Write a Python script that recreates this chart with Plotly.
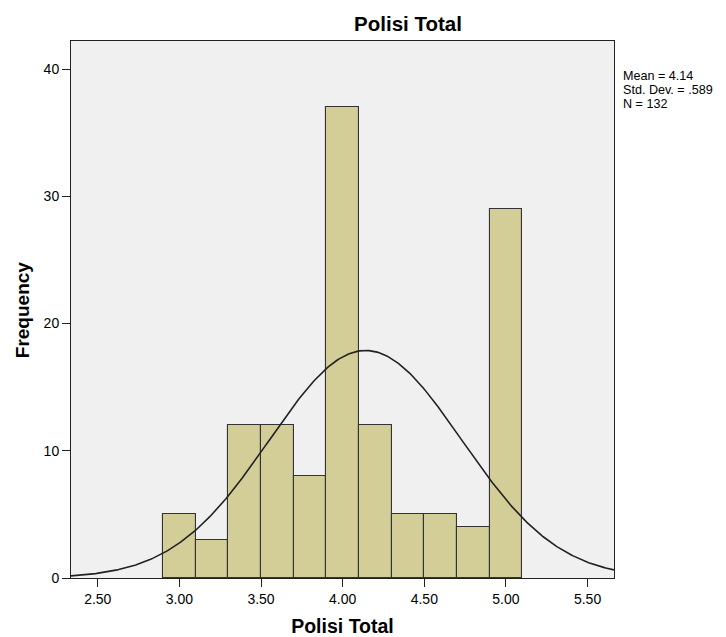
import numpy as np
import plotly.graph_objects as go

bin_lefts = [2.9, 3.1, 3.3, 3.5, 3.7, 3.9, 4.1, 4.3, 4.5, 4.7, 4.9]
frequencies = [5, 3, 12, 12, 8, 37, 12, 5, 5, 4, 29]
bin_width = 0.2
mean_val = 4.14
std_val = 0.589
n_val = 132
x_ticks = [2.5, 3.0, 3.5, 4.0, 4.5, 5.0, 5.5]
x_tick_labels = ["2.50", "3.00", "3.50", "4.00", "4.50", "5.00", "5.50"]
y_ticks = [0, 10, 20, 30, 40]
stats_lines = [f"Mean = {mean_val:.2f}", f"Std. Dev. = .{int(round(std_val * 1000))}", f"N = {n_val}"]

X_RANGE = [2.336, 5.662]
Y_RANGE = [0, 42.2]
# page has an 8px body margin; figure is sized to fit the window from that offset
W, H = 718, 629
L, R, T, B = 63, 112, 33, 59
plot_h = H - T - B
plot_w = W - L - R

centers = [b + bin_width / 2 for b in bin_lefts]
xs = np.linspace(X_RANGE[0], X_RANGE[1], 400)
ys = n_val * bin_width * np.exp(-0.5 * ((xs - mean_val) / std_val) ** 2) / (std_val * np.sqrt(2 * np.pi))

font = "Liberation Sans, Arial, sans-serif"
fig = go.Figure()
fig.add_trace(go.Bar(x=centers, y=frequencies, width=[bin_width] * len(centers),
                     marker=dict(color="#D3CE97", line=dict(color="#333333", width=1.1)),
                     showlegend=False, hoverinfo="x+y"))
fig.add_trace(go.Scatter(x=xs, y=ys, mode="lines", line=dict(color="#222222", width=1.6),
                         showlegend=False, hoverinfo="skip"))

annotations = []
for i, line in enumerate(stats_lines):
    annotations.append(dict(text=line, xref="paper", yref="paper",
                            x=1 + (612.5 - (W - R)) / plot_w, xanchor="left",
                            y=1 - (68 + 14 * i - T) / plot_h, yanchor="middle",
                            showarrow=False, align="left",
                            font=dict(size=12.6, family=font, color="black")))
# y-axis title placed precisely
annotations.append(dict(text="<b>Frequency</b>", xref="paper", yref="paper",
                        x=(14.7 - L) / plot_w, xanchor="center", y=0.5, yanchor="middle",
                        textangle=-90, showarrow=False,
                        font=dict(size=19, family=font, color="black")))

fig.update_layout(
    width=W, height=H,
    margin=dict(l=L, r=R, t=T, b=B),
    paper_bgcolor="white", plot_bgcolor="#F0F0F0",
    bargap=0,
    font=dict(family=font, color="black", size=14),
    title=dict(text="<b>Polisi Total</b>", x=400 / W, xanchor="center",
               y=1 - 16 / H, yanchor="middle", font=dict(size=20.5, family=font)),
    xaxis=dict(range=X_RANGE, tickvals=x_ticks, ticktext=x_tick_labels, automargin=False,
               ticks="outside", ticklen=8, tickcolor="#222222", showgrid=False, zeroline=False,
               showline=True, linecolor="#222222", linewidth=1, mirror=True,
               title=dict(text="<b>Polisi Total</b>", font=dict(size=19.5), standoff=15),
               tickfont=dict(size=14)),
    yaxis=dict(range=Y_RANGE, tickvals=y_ticks, ticks="outside", ticklen=8, tickcolor="#222222",
               automargin=False,
               showgrid=False, zeroline=False, showline=True, linecolor="#222222", linewidth=1,
               mirror=True, tickfont=dict(size=14)),
    annotations=annotations,
)
fig.write_html("out.html")
